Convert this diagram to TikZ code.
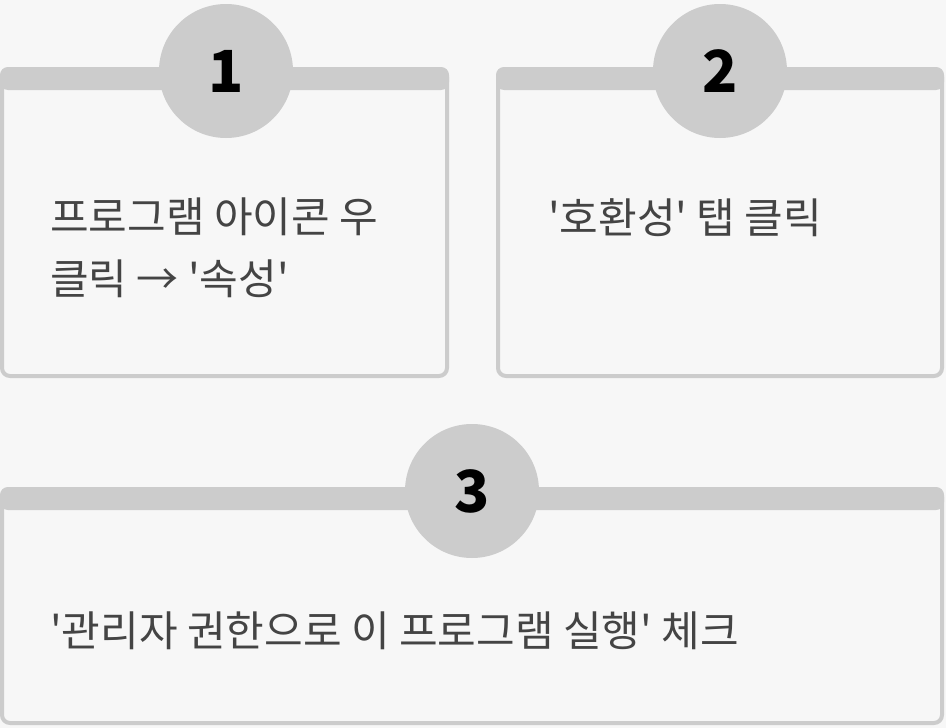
\documentclass[tikz,border=0pt]{standalone}
\usepackage{fontspec}
\newfontfamily\kr{Noto Sans CJK KR}
\definecolor{bg}{HTML}{F7F7F7}
\definecolor{gr}{HTML}{CCCCCC}
\definecolor{tx}{HTML}{444444}
\tikzset{
  card/.style={draw=gr,line width=4pt,rounded corners=8pt,fill=bg},
  band/.style={fill=gr,rounded corners=8pt},
  badge/.style={circle,fill=gr,minimum size=134pt,inner sep=0pt,font=\kr\bfseries\fontsize{58}{58}\selectfont,text=black},
  label/.style={anchor=north west,font=\kr\fontsize{42}{62}\selectfont,text=tx,align=left,inner sep=0pt}
}
\begin{document}
\begin{tikzpicture}[x=1pt,y=-1pt]
\fill[bg] (0,0) rectangle (946,728);
\useasboundingbox (0,0) rectangle (946,728);
\draw[card] (2,69) rectangle (447,376);
\fill[band] (0,67) rectangle (449,90);
\draw[card] (498,69) rectangle (942,376);
\fill[band] (496,67) rectangle (944,90);
\draw[card] (2,489) rectangle (942,723);
\fill[band] (0,487) rectangle (944,510);
\node[badge] (b1) at (226,71) {1};
\node[badge] (b2) at (720,71) {2};
\node[badge] (b3) at (472,491) {3};
\node[label] (t1) at (50,198) {프로그램 아이콘 우\\클릭 → '속성'};
\node[label] (t2) at (548,198) {'호환성' 탭 클릭};
\node[label] (t3) at (50,612) {'관리자 권한으로 이 프로그램 실행' 체크};
\end{tikzpicture}
\end{document}
